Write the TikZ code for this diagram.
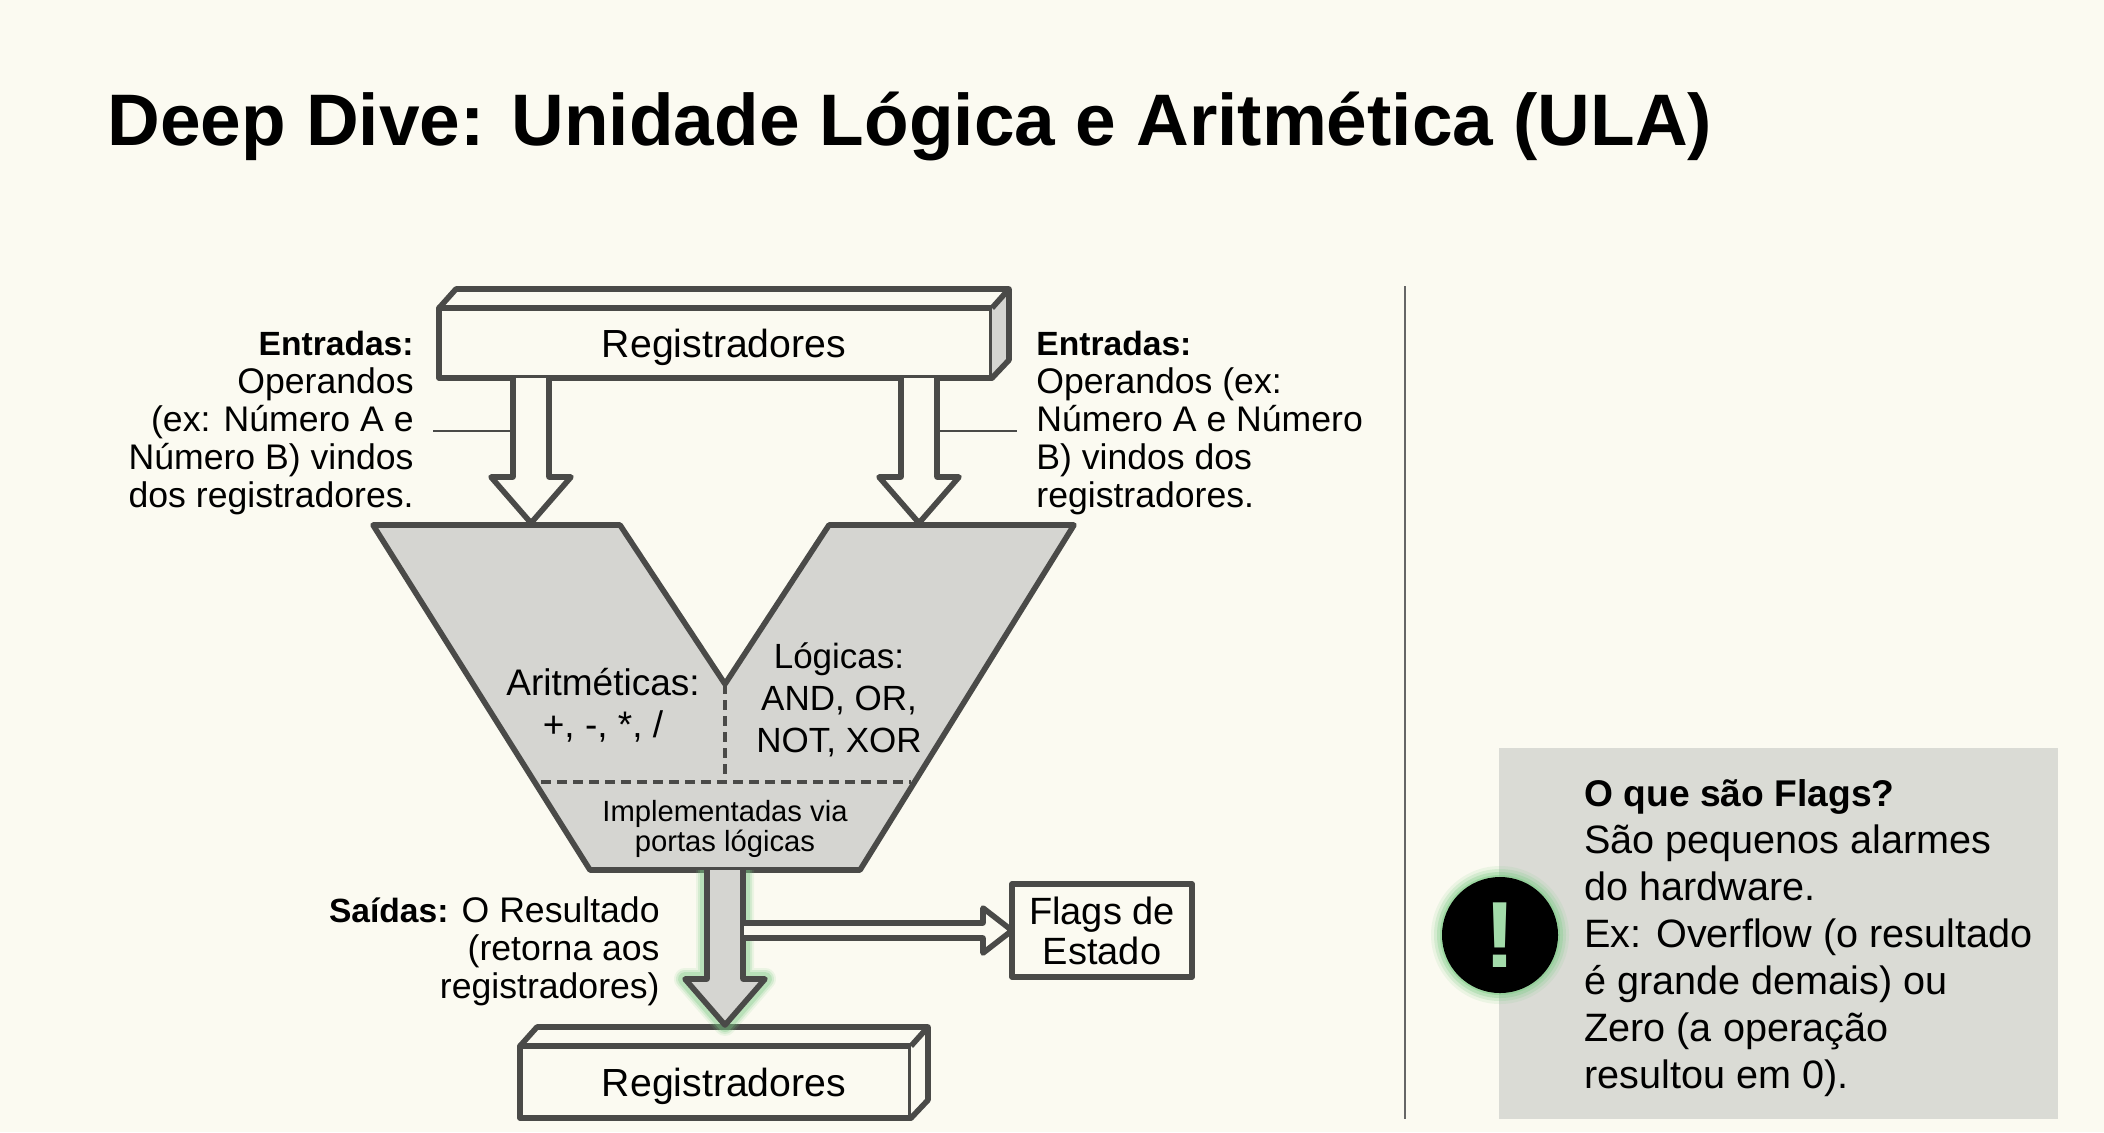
\documentclass[tikz,border=0pt]{standalone}
\usepackage{fontspec}
\setmainfont{Liberation Sans}
\usepackage{xcolor}
\usetikzlibrary{calc,positioning}
\definecolor{paperx}{HTML}{FBFAF1}
\definecolor{linex}{HTML}{4A4A48}
\definecolor{grayx}{HTML}{D5D5D1}
\definecolor{panelx}{HTML}{DADBD5}
\definecolor{glowx}{HTML}{7CCB85}
\tikzset{
  ln/.style={draw=linex,line width=2.8pt,line join=round},
  regbox/.style={ln,fill=paperx,rectangle,inner sep=0pt,outer sep=0pt,font=\fontsize{19.6}{22}\selectfont},
  hollow/.style={ln,fill=paperx},
  solidar/.style={ln,fill=grayx},
  lead/.style={draw=linex,line width=0.8pt},
  dashln/.style={draw=linex,line width=1.6pt,dash pattern=on 5pt off 3pt},
  lbl/.style={font=\fontsize{17.8}{19}\selectfont,inner sep=0pt},
  inlbl/.style={font=\fontsize{18.5}{21}\selectfont,align=center,inner sep=0pt},
  small/.style={font=\fontsize{14.6}{15}\selectfont,align=center,inner sep=0pt}
}
\newcommand{\blockdown}[4]{
  \draw[#1] ($(#2)+(-#4,0)$) -- ($(#3)+(-#4,-46)$) -- ($(#3)+(-#4-22,-46)$) -- (#3)
    -- ($(#3)+(#4+22,-46)$) -- ($(#3)+(#4,-46)$) -- ($(#2)+(#4,0)$);
}
\newcommand{\hd}[1]{{\fontsize{16.8}{19}\selectfont\bfseries #1}}
\newcommand{\regtxt}{\hspace*{8.5pt}\raisebox{-7pt}[0pt][0pt]{Registradores}}
\begin{document}
\begin{tikzpicture}[x=0.5pt,y=-0.5pt]
\useasboundingbox (0,0) rectangle (2104,1132);
\fill[paperx] (0,0) rectangle (2104,1132);
\node[anchor=base west,inner sep=0pt,font=\fontsize{36.5}{40}\selectfont\bfseries] (title) at (107,145) {Deep Dive: Unidade Lógica e Aritmética (ULA)};

\node[regbox,minimum width=276.5pt,minimum height=35pt] (regtop) at (715.5,343) {\regtxt};
\node[regbox,minimum width=195.5pt,minimum height=36pt] (regbot) at (715.5,1082) {\regtxt};
\foreach \r/\c in {regtop/grayx,regbot/paperx}{
  \fill[\c] (\r.north east) -- ++(17,-19) -- ($(\r.south east)+(17,-18)$) -- (\r.south east) -- cycle;
  \draw[ln] (\r.north west) -- ++(17,-19) -| ($(\r.south east)+(17,-18)$) -- (\r.south east);
  \draw[ln] (\r.north east) -- ++(17,-19);
}

\coordinate (inA) at (531,378);
\coordinate (tipA) at (531,523);
\coordinate (inB) at (919,378);
\coordinate (tipB) at (919,523);
\blockdown{hollow}{inA}{tipA}{18}
\blockdown{hollow}{inB}{tipB}{18}

\draw[ln,fill=grayx] (373,525) -- (620,525) -- (725,684) -- (829,525) -- (1074,525) -- (860,870) -- (590,870) -- cycle;
\draw[dashln] (725,684) -- (725,782);
\draw[dashln] (541,782) -- (911,782);

\coordinate (outA) at (725,870);
\coordinate (tipC) at (725,1025);
\foreach \w/\o in {11/.12,9/.2,7/.3}{
  \blockdown{draw=glowx,line join=round,line width=\w pt,opacity=\o}{outA}{tipC}{18}
}
\blockdown{solidar}{outA}{tipC}{18}

\node[ln,fill=paperx,inner sep=0pt,outer sep=0pt,minimum width=90pt,minimum height=46.5pt,align=center,font=\fontsize{19}{20}\selectfont] (flags) at (1102,930.5) {Flags de\\Estado};
\draw[hollow] (744,923) -- (983,923) -- (983,908) -- (flags.west) -- (983,953) -- (983,938) -- (744,938);

\coordinate (leadAa) at (433,431);
\coordinate (leadAb) at (513,431);
\coordinate (leadBa) at (937,431);
\coordinate (leadBb) at (1017,431);
\draw[lead] (leadAa) -- (leadAb);
\draw[lead] (leadBa) -- (leadBb);

\node[lbl,align=right,anchor=east] (entA) at (414,423) {\hd{Entradas:}\\Operandos\\(ex: Número A e\\Número B) vindos\\dos registradores.};
\node[lbl,align=left,anchor=west] (entB) at (1036,423) {\hd{Entradas:}\\Operandos (ex:\\Número A e Número\\B) vindos dos\\registradores.};
\node[inlbl] (arit) at (603,705) {Aritméticas:\\+, -, *, /};
\node[inlbl,font=\fontsize{17.5}{21}\selectfont] (logi) at (839,700) {Lógicas:\\AND, OR,\\NOT, XOR};
\node[small] (impl) at (725,829) {Implementadas via\\portas lógicas};
\node[lbl,align=right,anchor=east] (said) at (660,951) {\hd{Saídas:} O Resultado\\(retorna aos\\registradores)};

\draw[draw=gray!80!black,line width=1pt] (1405,286) -- (1405,1119);

\node[fill=panelx,inner sep=0pt,minimum width=279.5pt,minimum height=185.5pt] (panel) at (1778.5,933.5) {};
\foreach \r/\o in {34.5/.12,33/.2,31.5/.3,30/.45}{
  \fill[glowx,opacity=\o] (1500,935) circle (\r*2);
}
\node[circle,fill=black,minimum size=58pt,inner sep=0pt] (alert) at (1500,935) {};
\node[font=\fontsize{47}{47}\selectfont\bfseries,text=glowx!70!white,inner sep=0pt] (bang) at (alert) {!};
\node[anchor=west,align=left,inner sep=0pt,font=\fontsize{19.8}{23.5}\selectfont] (flagtxt) at (1584,938) {{\fontsize{18.6}{23.5}\selectfont\bfseries O que são Flags?}\\São pequenos alarmes\\do hardware.\\Ex: Overflow (o resultado\\é grande demais) ou\\Zero (a operação\\resultou em 0).};
\end{tikzpicture}
\end{document}
